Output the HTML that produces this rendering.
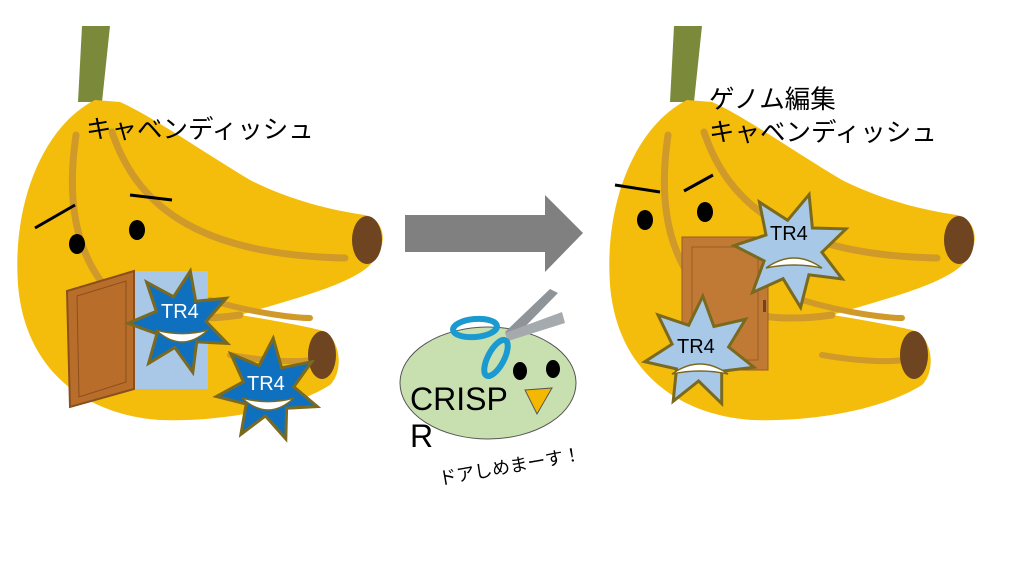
<!DOCTYPE html>
<html><head><meta charset="utf-8"><style>
html,body{margin:0;padding:0;background:#fff;width:1024px;height:576px;overflow:hidden}
svg{display:block}
text{font-family:"Liberation Sans","Noto Sans CJK JP",sans-serif}
</style></head><body>
<svg width="1024" height="576" viewBox="0 0 1024 576" xmlns="http://www.w3.org/2000/svg">
<defs>
<g id="banana">
  <polygon points="82,26 110,26 102,102 78,102" fill="#7b8a3a"/>
  <path d="M95,100 C45,125 12,200 18,285 C25,370 85,415 160,420 C220,422 290,410 330,385 C345,370 340,335 320,330 C300,325 260,318 240,315 C290,300 350,285 370,265 C390,245 385,220 365,215 C330,210 290,200 250,180 C200,150 150,115 120,102 Z" fill="#f4bd0c"/>
  <path d="M76,135 C68,190 72,240 100,280 C130,310 170,325 240,315" fill="none" stroke="#cf9a2a" stroke-width="7" stroke-linecap="round"/>
  <path d="M112,132 C135,200 190,255 345,258" fill="none" stroke="#cf9a2a" stroke-width="7" stroke-linecap="round"/>
  <path d="M210,300 C260,315 300,318 310,318" fill="none" stroke="#cf9a2a" stroke-width="6" stroke-linecap="round"/>
  <path d="M230,355 C270,362 300,362 310,360" fill="none" stroke="#cf9a2a" stroke-width="6" stroke-linecap="round"/>
  <ellipse cx="367" cy="240" rx="15" ry="24" fill="#6e4520"/>
  <ellipse cx="322" cy="355" rx="14" ry="24" fill="#6e4520"/>
</g>
</defs>
<use href="#banana"/>
<use href="#banana" transform="translate(592,0)"/>

<line x1="35" y1="228" x2="75" y2="205" stroke="#000" stroke-width="3"/>
<line x1="130" y1="195" x2="172" y2="200" stroke="#000" stroke-width="3"/>
<ellipse cx="77" cy="244" rx="8" ry="10" fill="#000"/>
<ellipse cx="137" cy="230" rx="8" ry="10" fill="#000"/>
<rect x="134" y="271" width="74" height="118" fill="#a9c8e8"/>
<polygon points="67,291 134,271 134,389 70,407" fill="#b86e2a" stroke="#8a4f1c" stroke-width="2"/>
<polygon points="77,296 126,281 126,382 79,397" fill="none" stroke="#8a4f1c" stroke-width="1"/>
<g id="stars"></g>
<text x="86" y="138" font-size="25.5">キャベンディッシュ</text>

<polygon points="405,215 545,215 545,195 583,233 545,272 545,252 405,252" fill="#808080"/>

<ellipse cx="488" cy="383" rx="88" ry="56" fill="#c8e0b0" stroke="#555" stroke-width="1"/>
<path d="M505,332 L550,289 L558,293 L512,340 Z" fill="#8f9498"/>
<path d="M505,333 L562,312 L565,323 L508,341 Z" fill="#a5aaae"/>
<ellipse cx="475" cy="328" rx="22" ry="9" fill="none" stroke="#1a9ad0" stroke-width="6" transform="rotate(-5 475 328)"/>
<ellipse cx="496" cy="358" rx="8" ry="20" fill="none" stroke="#1a9ad0" stroke-width="6" transform="rotate(28 496 358)"/>
<ellipse cx="520" cy="371" rx="7" ry="9" fill="#000"/>
<ellipse cx="553" cy="369" rx="7" ry="9" fill="#000"/>
<polygon points="525,390 552,388 537,414" fill="#f5b800" stroke="#555" stroke-width="1"/>
<text x="410" y="410" font-size="32">CRISP</text>
<text x="410" y="447" font-size="32">R</text>
<text x="440" y="485" font-size="18" transform="rotate(-10 440 485)">ドアしめまーす！</text>

<line x1="615" y1="185" x2="660" y2="192" stroke="#000" stroke-width="3"/>
<line x1="684" y1="191" x2="713" y2="175" stroke="#000" stroke-width="3"/>
<ellipse cx="645" cy="220" rx="8" ry="10" fill="#000"/>
<ellipse cx="705" cy="212" rx="8" ry="10" fill="#000"/>
<rect x="682" y="237" width="86" height="133" fill="#c07a35" stroke="#9a5c22" stroke-width="1"/>
<rect x="692" y="247" width="66" height="113" fill="none" stroke="#9a5c22" stroke-width="1"/>
<rect x="763" y="300" width="3" height="12" fill="#6e4520"/>
<g id="stars2"></g>
<text x="709" y="108" font-size="25.5">ゲノム編集</text>
<text x="709" y="141" font-size="25.5">キャベンディッシュ</text>
</svg>
<script>
function star(cx,cy,R,r,n,rot,fill){
  var p=[];for(var i=0;i<2*n;i++){var a=rot+Math.PI*i/n;var rr=i%2?r:R;p.push((cx+rr*Math.sin(a)).toFixed(1)+","+(cy-rr*Math.cos(a)).toFixed(1));}
  return '<polygon points="'+p.join(" ")+'" fill="'+fill+'" stroke="#7a6a20" stroke-width="3" stroke-linejoin="miter"/>';
}
function grin(cx,cy,w,up){
  var h=up?12:-10;
  return '<path d="M'+(cx-w)+','+cy+' Q'+cx+','+(cy+2*h)+' '+(cx+w)+','+cy+' Q'+cx+','+(cy+h*0.6)+' '+(cx-w)+','+cy+'Z" fill="#fff" stroke="#7a6a20" stroke-width="1.5"/>';
}
document.getElementById("stars").innerHTML=
 star(180,322,52,26,7,0.2,"#1070c0")+grin(182,330,26,true)+'<text x="161" y="318" font-size="20" fill="#fff">TR4</text>'
 +star(268,390,52,26,7,0.1,"#1070c0")+grin(268,398,26,true)+'<text x="247" y="390" font-size="20" fill="#fff">TR4</text>';
document.getElementById("stars2").innerHTML=
 star(792,250,58,30,7,0.3,"#a8c8e8")+grin(794,268,28,false)+'<text x="770" y="240" font-size="20" fill="#000">TR4</text>'
 +star(700,352,56,29,7,0.05,"#a8c8e8")+grin(700,374,28,false)+'<text x="677" y="353" font-size="20" fill="#000">TR4</text>';
</script>
</body></html>
